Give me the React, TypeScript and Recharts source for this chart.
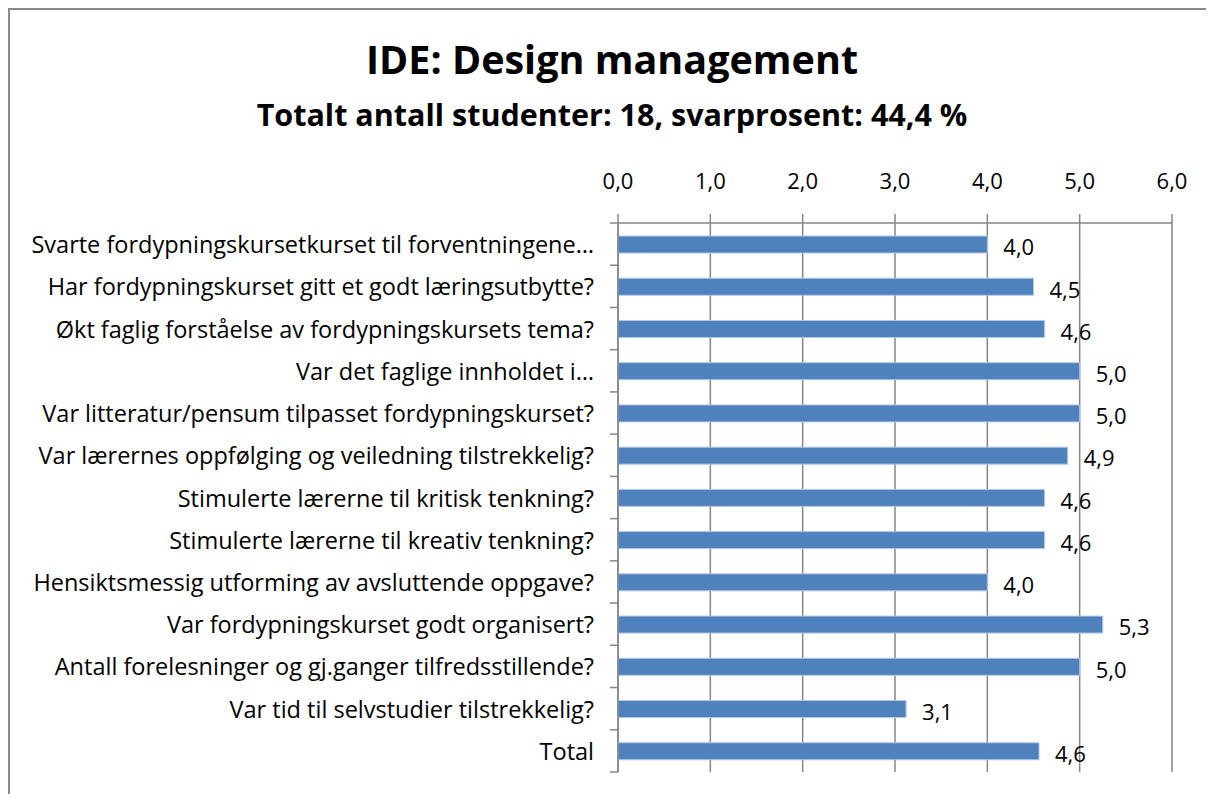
import { BarChart, Bar, XAxis, YAxis, CartesianGrid, LabelList } from "recharts";

const questions = [
  "Svarte fordypningskursetkurset til forventningene…",
  "Har fordypningskurset gitt et godt læringsutbytte?",
  "Økt faglig forståelse av fordypningskursets tema?",
  "Var det faglige innholdet i…",
  "Var litteratur/pensum tilpasset fordypningskurset?",
  "Var lærernes oppfølging og veiledning tilstrekkelig?",
  "Stimulerte lærerne til kritisk tenkning?",
  "Stimulerte lærerne til kreativ tenkning?",
  "Hensiktsmessig utforming av avsluttende oppgave?",
  "Var fordypningskurset godt organisert?",
  "Antall forelesninger og gj.ganger tilfredsstillende?",
  "Var tid til selvstudier tilstrekkelig?",
  "Total",
];

const scores = [4.0, 4.5, 4.62, 5.0, 5.0, 4.87, 4.62, 4.62, 4.0, 5.25, 5.0, 3.12, 4.56];

const xTicks = [0, 1, 2, 3, 4, 5, 6];

const data = questions.map((q, i) => ({ name: q, value: scores[i] }));

const FONT = "'Open Sans', sans-serif";
const GRID = "#868686";
const W = 1220;
const H = 790;
const M = { top: 179, right: 58, bottom: 28, left: 8 };
const X_AXIS_H = 34;
const Y_AXIS_W = 600;
const band = (H - M.top - X_AXIS_H - M.bottom) / questions.length;

const fmt = (v: number) => v.toFixed(1).replace(".", ",");

const CatTick = (props: any) => {
  const { x, y, payload, index } = props;
  // x comes in already shifted left of the axis line by tickSize + tickMargin
  const ax = x + 8;
  return (
    <g>
      <text x={ax - 24} y={y} dy={9} textAnchor="end" fill="#000" fontSize={23.5} fontFamily={FONT}>
        {payload.value}
      </text>
      <line x1={ax - 8} x2={ax} y1={y - band / 2} y2={y - band / 2} stroke={GRID} strokeWidth={1.5} />
      {index === questions.length - 1 && (
        <line x1={ax - 8} x2={ax} y1={y + band / 2} y2={y + band / 2} stroke={GRID} strokeWidth={1.5} />
      )}
    </g>
  );
};

export default function App() {
  return (
    <div
      style={{
        position: "relative",
        width: W,
        height: H,
        border: "2px solid #8a8a8a",
        background: "#fff",
        fontFamily: FONT,
      }}
    >
      <div
        style={{
          position: "absolute",
          top: 22,
          left: 0,
          width: 1204,
          textAlign: "center",
          fontWeight: 700,
          fontSize: 39.5,
          lineHeight: "normal",
          color: "#000",
        }}
      >
        IDE: Design management
      </div>
      <div
        style={{
          position: "absolute",
          top: 83,
          left: 0,
          width: 1204,
          textAlign: "center",
          fontWeight: 700,
          fontSize: 30.5,
          lineHeight: "normal",
          color: "#000",
        }}
      >
        Totalt antall studenter: 18, svarprosent: 44,4 %
      </div>
      <BarChart width={W} height={H} data={data} layout="vertical" margin={M} barSize={17}>
        <CartesianGrid horizontal={false} stroke={GRID} strokeWidth={1.5} />
        <XAxis
          type="number"
          orientation="top"
          domain={[0, 6]}
          ticks={xTicks}
          height={X_AXIS_H}
          tickFormatter={fmt}
          tickSize={9}
          tickMargin={25}
          stroke={GRID}
          strokeWidth={1.5}
          tick={{ fill: "#000", fontSize: 22, fontFamily: FONT }}
        />
        <YAxis
          type="category"
          dataKey="name"
          width={Y_AXIS_W}
          tickLine={false}
          stroke={GRID}
          strokeWidth={1.5}
          tick={<CatTick />}
          interval={0}
        />
        <Bar dataKey="value" fill="#4F81BD" stroke="#B3C8E4" strokeWidth={1} isAnimationActive={false}>
          <LabelList
            dataKey="value"
            position="right"
            offset={16}
            formatter={(v: any) => fmt(Number(v))}
            fill="#000"
            fontSize={22}
            fontFamily={FONT}
            dy={3}
          />
        </Bar>
      </BarChart>
    </div>
  );
}
